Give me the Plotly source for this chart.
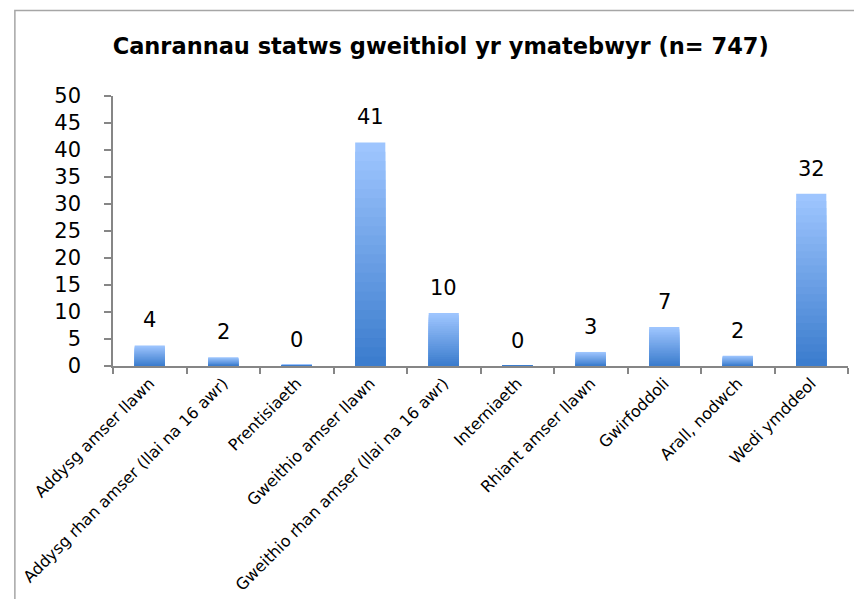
import plotly.graph_objects as go

categories = [
    "Addysg amser llawn",
    "Addysg rhan amser (llai na 16 awr)",
    "Prentisiaeth",
    "Gweithio amser llawn",
    "Gweithio rhan amser (llai na 16 awr)",
    "Interniaeth",
    "Rhiant amser llawn",
    "Gwirfoddoli",
    "Arall, nodwch",
    "Wedi ymddeol",
]
percentages = [3.8, 1.6, 0.2, 41.4, 9.8, 0.05, 2.6, 7.2, 1.9, 31.9]
value_labels = ["4", "2", "0", "41", "10", "0", "3", "7", "2", "32"]

FONT = "DejaVu Sans"
TOP = (158, 197, 254)
BOTTOM = (60, 125, 206)
steps = 24

fig = go.Figure()

# fake vertical gradient: stack shorter, darker copies of each bar on top
for i in range(steps):
    frac = 1 - i / steps
    t = i / (steps - 1)
    rgb = tuple(round(TOP[k] + (BOTTOM[k] - TOP[k]) * t) for k in range(3))
    fig.add_trace(
        go.Bar(
            x=categories,
            y=[v * frac for v in percentages],
            width=0.41,
            marker=dict(color="rgb(%d,%d,%d)" % rgb, line=dict(width=0)),
            hoverinfo="skip" if i else None,
            showlegend=False,
        )
    )

annotations = [
    dict(
        x=c, y=v, text=lab, showarrow=False, yshift=25,
        font=dict(family=FONT, size=21, color="#000000"),
    )
    for c, v, lab in zip(categories, percentages, value_labels)
]

fig.update_layout(
    width=862,
    height=599,
    margin=dict(l=99, r=22, t=88, b=235),
    paper_bgcolor="white",
    plot_bgcolor="white",
    barmode="overlay",
    title=dict(
        text="<b>Canrannau statws gweithiol yr ymatebwyr (n= 747)</b>",
        font=dict(family="DejaVu Sans", size=22.5, color="#000000"),
        x=0.502,
        xanchor="center",
        y=0.937,
        yanchor="middle",
    ),
    annotations=annotations,
    shapes=[
        dict(
            type="rect", xref="paper", yref="paper",
            x0=-0.1335, x1=1.2, y0=-1.2, y1=1.317,
            line=dict(color="#a6a6a6", width=1.5),
        )
    ],
    xaxis=dict(
        type="category",
        showline=True,
        linecolor="#868686",
        linewidth=1.5,
        ticks="outside",
        tickson="boundaries",
        ticklen=6,
        tickcolor="#868686",
        tickwidth=1.5,
        tickangle=-45,
        tickfont=dict(family=FONT, size=16, color="#000000"),
        showgrid=False,
    ),
    yaxis=dict(
        range=[0, 50],
        dtick=5,
        showline=True,
        linecolor="#868686",
        linewidth=1.5,
        ticks="outside",
        ticklen=7,
        tickcolor="#868686",
        tickwidth=1.5,
        ticklabelstandoff=19,
        tickfont=dict(family=FONT, size=21, color="#000000"),
        showgrid=False,
        zeroline=False,
    ),
)

fig.write_html("out.html")
